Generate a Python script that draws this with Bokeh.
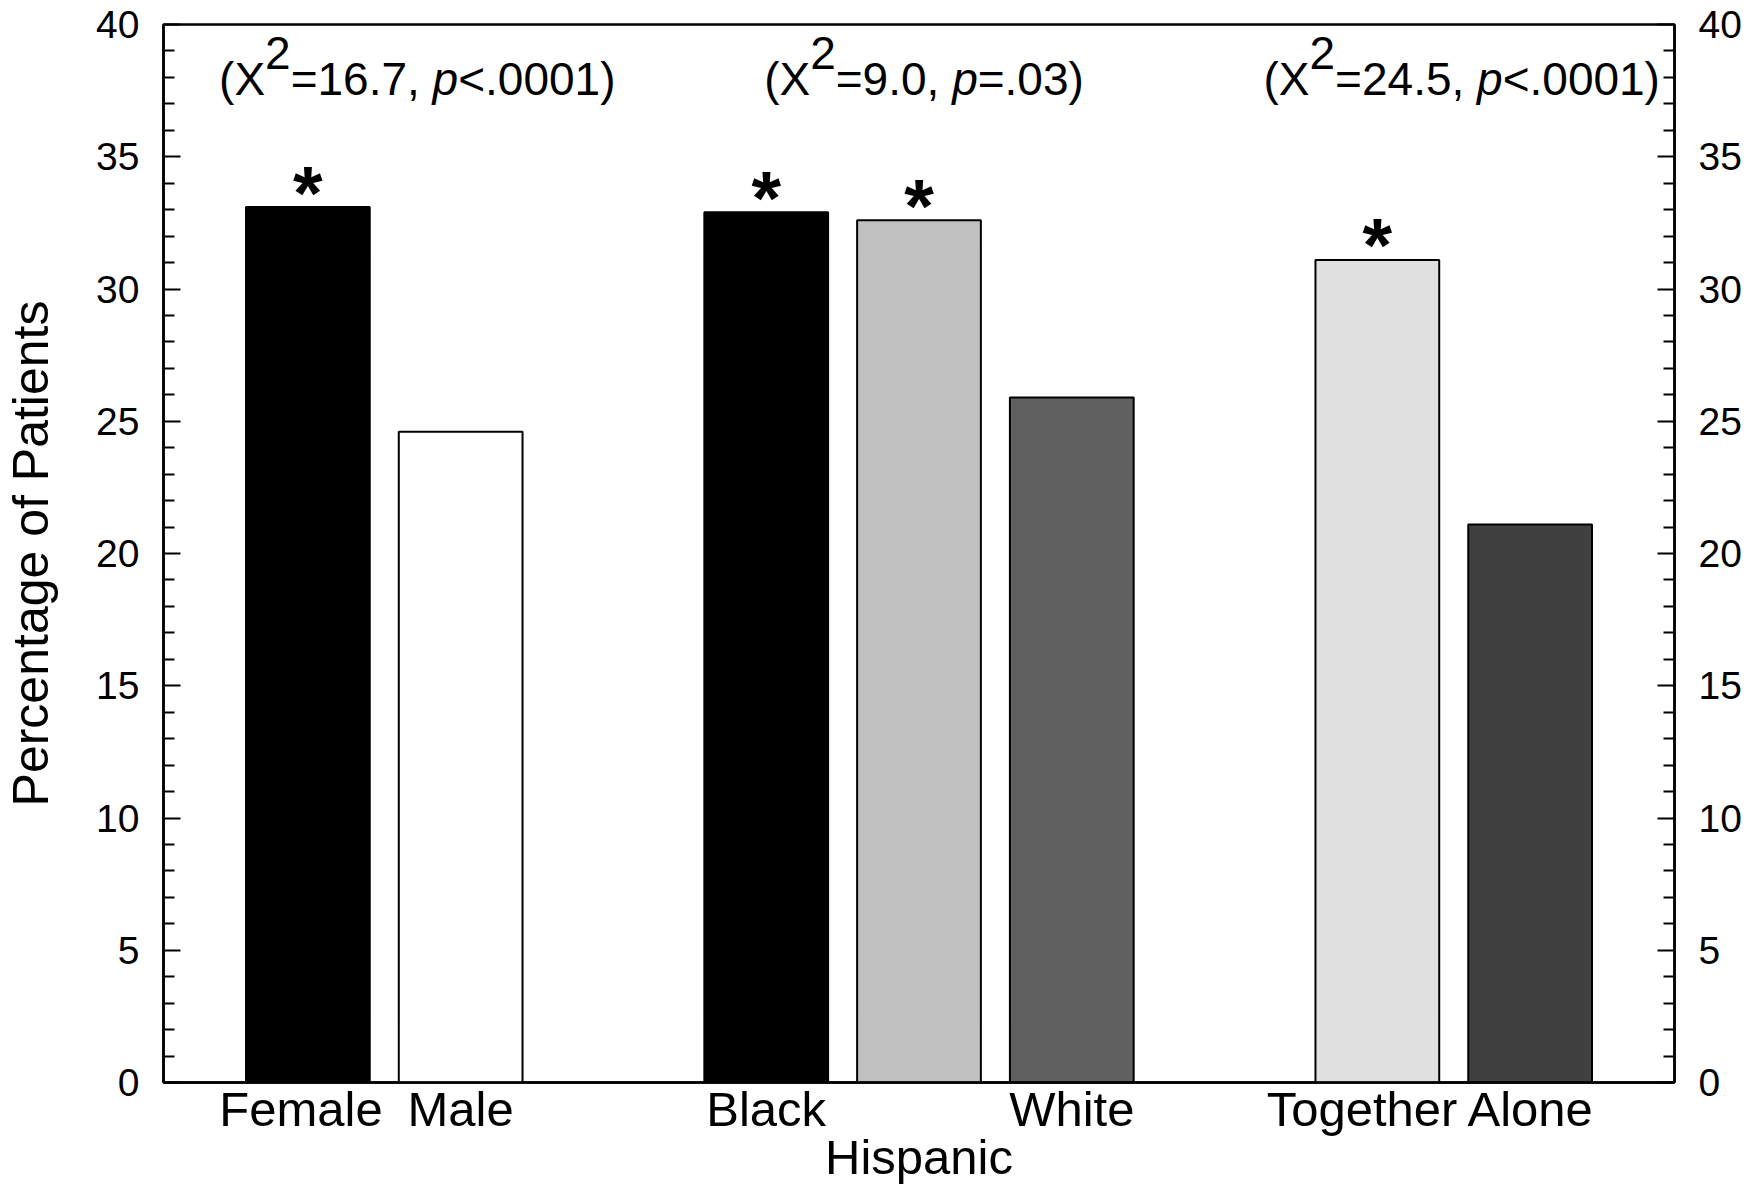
from bokeh.plotting import figure
from bokeh.models import Range1d, LinearAxis, FixedTicker, Label, ColumnDataSource
from bokeh.core.properties import value
from bokeh.embed import file_html
from bokeh.resources import INLINE

# ---------------- data ----------------
groups = [["Female", "Male"], ["Black", "Hispanic", "White"], ["Together", "Alone"]]
categories = ["Female", "Male", "Black", "Hispanic", "White", "Together", "Alone"]
percentages = [33.1, 24.6, 32.9, 32.6, 25.9, 31.1, 21.1]
significant = [True, False, True, True, False, True, False]
chi_square = ["16.7", "9.0", "24.5"]
p_values = ["<.0001", "=.03", "<.0001"]
y_ticks = [0, 5, 10, 15, 20, 25, 30, 35, 40]
y_label = "Percentage of Patients"
second_line_label = "Hispanic"

bar_colors = ["#000000", "#ffffff", "#000000", "#c0c0c0", "#606060", "#e0e0e0", "#404040"]
# small horizontal nudges (in slot units) of some category labels, as in the original
label_nudge = {"Female": -0.045, "Together": -0.1}

FONT = "Liberation Sans"

# slot positions: one empty slot between groups
positions = {}
slot = 0
for gi, g in enumerate(groups):
    if gi > 0:
        slot += 1
    for c in g:
        positions[c] = slot
        slot += 1
xs = [positions[c] for c in categories]

p = figure(x_range=Range1d(xs[0] - 0.945, xs[-1] + 0.945), y_range=Range1d(0, 40),
           frame_width=1511, frame_height=1058,
           min_border_left=163, min_border_right=70, min_border_top=24, min_border_bottom=103,
           output_backend="svg", toolbar_location=None)
p.background_fill_color = "white"
p.border_fill_color = "white"
p.outline_line_color = "black"
p.outline_line_width = 2.5
p.xgrid.visible = False
p.ygrid.visible = False

src = ColumnDataSource(dict(
    x=xs,
    pct=percentages,
    color=bar_colors,
    star=["*" if s else "" for s in significant],
))

p.vbar(x="x", top="pct", bottom=0, width=0.81, fill_color="color",
       line_color="black", line_width=2, source=src)

p.text(x="x", y="pct", text="star", source=src,
       text_font=value(FONT), text_font_style="bold", text_font_size="76px",
       text_align="center", text_baseline="alphabetic", y_offset=-15, text_color="black")

# ---------------- axes ----------------
minor = [v for v in range(y_ticks[0], y_ticks[-1] + 1) if v not in y_ticks]
ticker = FixedTicker(ticks=y_ticks, minor_ticks=minor)

right_axis = LinearAxis(ticker=ticker)
p.add_layout(right_axis, "right")

for ax in (p.yaxis[0], right_axis):
    ax.ticker = ticker
    ax.major_tick_in = 17
    ax.major_tick_out = 0
    ax.minor_tick_in = 11
    ax.minor_tick_out = 0
    ax.major_tick_line_width = 2
    ax.minor_tick_line_width = 2
    ax.major_tick_line_color = "black"
    ax.minor_tick_line_color = "black"
    ax.axis_line_width = 2.5
    ax.axis_line_color = "black"
    ax.major_label_text_font = FONT
    ax.major_label_text_font_size = "39px"
    ax.major_label_text_color = "black"
    ax.major_label_standoff = 24

p.yaxis[0].axis_label = y_label
p.yaxis[0].axis_label_text_font = FONT
p.yaxis[0].axis_label_text_font_size = "50px"
p.yaxis[0].axis_label_text_font_style = "normal"
p.yaxis[0].axis_label_text_color = "black"
p.yaxis[0].axis_label_standoff = 34

# category labels on the bottom axis; "Hispanic" goes on the second line
first_line = [c for c in categories if c != second_line_label]
label_pos = {c: positions[c] + label_nudge.get(c, 0.0) for c in first_line}
xa = p.xaxis[0]
xa.ticker = FixedTicker(ticks=[label_pos[c] for c in first_line], minor_ticks=[])
xa.major_label_overrides = {label_pos[c]: c for c in first_line}
xa.axis_line_width = 2.5
xa.axis_line_color = "black"
xa.major_tick_line_color = None
xa.minor_tick_line_color = None
xa.major_label_text_font = FONT
xa.major_label_text_font_size = "49px"
xa.major_label_text_color = "black"
xa.major_label_standoff = -7
xa.axis_label = second_line_label
xa.axis_label_text_font = FONT
xa.axis_label_text_font_size = "49px"
xa.axis_label_text_font_style = "normal"
xa.axis_label_text_color = "black"
xa.axis_label_standoff = -9

# ---------------- chi-square annotations ----------------
ADV = {'(': 333, ')': 333, 'X': 667, '=': 584, '<': 584, '.': 278, ',': 278, ' ': 278, 'p': 556}
for d in "0123456789":
    ADV[d] = 556
FS = 46


def width(s):
    return sum(ADV[c] for c in s) * FS / 1000.0


shifts = [33, 5, 8]
base_y = 37.95
for gi, g in enumerate(groups):
    cx = sum(positions[c] for c in g) / len(g)
    pieces = [("(X", 0, "normal"), ("2", 26, "normal"), ("=" + chi_square[gi] + ", ", 0, "normal"),
              ("p", 0, "italic"), (p_values[gi] + ")", 0, "normal")]
    total = sum(width(t) for t, _, _ in pieces)
    off = -total / 2 + shifts[gi]
    for t, dy, style in pieces:
        p.add_layout(Label(x=cx, y=base_y, x_offset=off, y_offset=dy, text=t,
                           text_font=FONT, text_font_size=f"{FS}px", text_font_style=style,
                           text_align="left", text_baseline="alphabetic", text_color="black"))
        off += width(t)

open("out.html", "w").write(file_html(p, INLINE))
